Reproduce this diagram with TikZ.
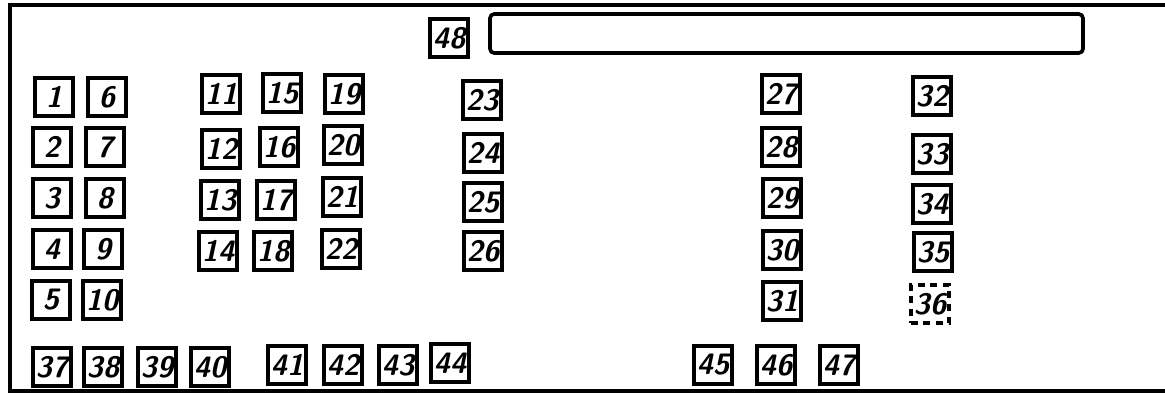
\documentclass[tikz,border=0pt]{standalone}
\usepackage{tikz}
\usetikzlibrary{positioning}

\tikzset{
  numbox/.style={draw, line width=2.6pt, minimum size=9.6mm, inner sep=0pt,
    font=\fontsize{21}{23}\selectfont\sffamily\bfseries\itshape},
  dashbox/.style={numbox, dash pattern=on 5pt off 4pt},
}

\begin{document}
\begin{tikzpicture}[x=0.25mm, y=-0.25mm]
  \useasboundingbox (0,0) rectangle (1165,394);

  % Frame
  \draw[line width=3pt] (1165,5) -- (10,5) -- (10,391) -- (1165,391);

  % Top bar
  \node[numbox] (b48) at (449,38) {48};
  \draw[line width=2.6pt, rounded corners=3pt] (490,14) rectangle (1083,53);

  % Left block
  \node[numbox] (b1) at (54,97) {1};
  \node[numbox] (b2) at (52,147) {2};
  \node[numbox] (b3) at (52,198) {3};
  \node[numbox] (b4) at (52,249) {4};
  \node[numbox] (b5) at (51,300) {5};
  \node[numbox] (b6) at (107,97) {6};
  \node[numbox] (b7) at (105,147) {7};
  \node[numbox] (b8) at (105,198) {8};
  \node[numbox] (b9) at (103,249) {9};
  \node[numbox] (b10) at (102,300) {10};

  % Middle block
  \node[numbox] (b11) at (221,94) {11};
  \node[numbox] (b12) at (221,149) {12};
  \node[numbox] (b13) at (220,200) {13};
  \node[numbox] (b14) at (218,251) {14};
  \node[numbox] (b15) at (282,93) {15};
  \node[numbox] (b16) at (279,147) {16};
  \node[numbox] (b17) at (276,200) {17};
  \node[numbox] (b18) at (273,251) {18};
  \node[numbox] (b19) at (344,94) {19};
  \node[numbox] (b20) at (343,145) {20};
  \node[numbox] (b21) at (342,197) {21};
  \node[numbox] (b22) at (341,249) {22};

  % Single column
  \node[numbox] (b23) at (482,100) {23};
  \node[numbox] (b24) at (483,153) {24};
  \node[numbox] (b25) at (483,202) {25};
  \node[numbox] (b26) at (483,251) {26};

  % Right block
  \node[numbox] (b27) at (781,94) {27};
  \node[numbox] (b28) at (781,147) {28};
  \node[numbox] (b29) at (782,198) {29};
  \node[numbox] (b30) at (782,250) {30};
  \node[numbox] (b31) at (782,301) {31};
  \node[numbox] (b32) at (932,96) {32};
  \node[numbox] (b33) at (932,154) {33};
  \node[numbox] (b34) at (932,204) {34};
  \node[numbox] (b35) at (933,252) {35};
  \node[dashbox] (b36) at (930,304) {36};

  % Bottom row
  \node[numbox] (b37) at (52,367) {37};
  \node[numbox] (b38) at (103,367) {38};
  \node[numbox] (b39) at (157,367) {39};
  \node[numbox] (b40) at (210,367) {40};
  \node[numbox] (b41) at (287,365) {41};
  \node[numbox] (b42) at (343,365) {42};
  \node[numbox] (b43) at (398,365) {43};
  \node[numbox] (b44) at (450,363) {44};
  \node[numbox] (b45) at (713,365) {45};
  \node[numbox] (b46) at (776,365) {46};
  \node[numbox] (b47) at (839,365) {47};
\end{tikzpicture}
\end{document}
